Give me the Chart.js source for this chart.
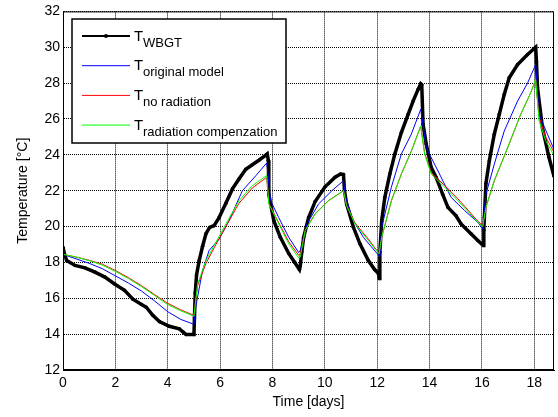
<!DOCTYPE html>
<html>
<head>
<meta charset="utf-8">
<script src="https://cdn.jsdelivr.net/npm/chart.js@4"></script>
<style>
  html, body { margin: 0; padding: 0; background: #fff; }
  #wrap { width: 558px; height: 417px; }
</style>
</head>
<body>
<div id="wrap"><canvas id="chart" width="558" height="417"></canvas></div>
<script>
// ================= DATA =================
const wbgtX = [0, 0.05, 0.14, 0.46, 0.84, 1.22, 1.6, 1.97, 2.35, 2.67, 3.0, 3.18, 3.43, 3.68, 4.06, 4.44, 4.6, 4.7, 5.0,
  5.02, 5.05, 5.1, 5.2, 5.33, 5.46, 5.6, 5.77, 5.96, 6.22, 6.47, 6.72, 6.98, 7.23, 7.48, 7.76, 7.8,
  7.84, 7.86, 8.05, 8.3, 8.62, 8.85, 9.03, 9.06, 9.12, 9.19, 9.38, 9.63, 10.0, 10.39, 10.6, 10.71,
  10.75, 10.83, 11.09, 11.34, 11.66, 11.9, 12.04, 12.08, 12.1, 12.17, 12.29, 12.48, 12.67, 12.92, 13.18, 13.37, 13.56, 13.66,
  13.7, 13.75, 13.87, 14.06, 14.25, 14.5, 14.7, 15.01, 15.2, 15.58, 15.84, 16.05,
  16.07, 16.09, 16.15, 16.28, 16.47, 16.66, 16.85, 17.04, 17.36, 17.74, 18.05,
  18.08, 18.12, 18.31, 18.56, 18.75];
const wbgtY = [18.85, 18.5, 18.1, 17.83, 17.7, 17.46, 17.18, 16.8, 16.44, 15.95, 15.65, 15.5, 15.05, 14.7, 14.44, 14.3, 14.1, 13.98, 13.98,
  14.9, 16.3, 17.3, 18.1, 18.9, 19.6, 19.95, 20.05, 20.5, 21.3, 22.1, 22.65, 23.2, 23.45, 23.7, 24.0, 24.05,
  23.7, 21.8, 20.33, 19.4, 18.5, 18.0, 17.6, 17.8, 18.6, 19.4, 20.5, 21.4, 22.2, 22.75, 22.93, 22.9,
  22.0, 21.26, 19.96, 19.04, 18.1, 17.6, 17.4, 17.1, 18.57, 20.33, 21.63, 22.93, 24.04, 25.24, 26.26, 27.0, 27.65, 27.96,
  27.9, 25.7, 24.6, 23.3, 22.74, 21.8, 21.07, 20.6, 20.15, 19.6, 19.22, 18.94,
  19.8, 20.5, 22.4, 23.67, 25.15, 26.26, 27.37, 28.3, 29.04, 29.6, 30.0,
  29.2, 27.74, 25.5, 23.85, 22.8];

const origX = [0, 0.5, 1.0, 1.5, 2.0, 2.5, 3.0, 3.5, 4.0, 4.5, 5.0, 5.02, 5.08, 5.33, 5.58, 5.96, 6.34, 6.85, 7.36, 7.78,
  7.8, 7.93, 8.24, 8.62, 9.0, 9.06, 9.32, 9.76, 10.27, 10.71, 10.8, 11.09, 11.47, 12.05, 12.1,
  12.17, 12.54, 12.92, 13.3, 13.66, 13.87, 14.32, 14.82, 15.33, 15.84, 16.03,
  16.15, 16.47, 16.85, 17.36, 17.74, 18.05, 18.18, 18.5, 18.75];
const origY = [18.45, 18.2, 17.95, 17.65, 17.25, 16.85, 16.4, 15.85, 15.25, 14.82, 14.55, 14.9, 15.6, 17.56, 18.67, 19.3, 20.33, 22.0, 22.83, 23.55,
  23.3, 21.44, 20.5, 19.4, 18.55, 18.67, 20.15, 21.26, 22.0, 22.56, 21.6, 20.33, 19.4, 18.4, 18.3,
  19.96, 22.2, 24.04, 25.15, 26.54, 24.4, 23.1, 21.63, 20.9, 20.24, 19.87,
  21.8, 23.48, 25.33, 27.0, 28.0, 29.04, 26.26, 25.15, 24.3];

const noRadX = [0, 0.5, 1.0, 1.5, 2.0, 2.5, 3.0, 3.5, 4.0, 4.5, 5.0, 5.14, 5.46, 5.84, 6.22, 6.72, 7.23, 7.78,
  7.86, 8.12, 8.62, 9.0, 9.06, 9.25, 9.63, 10.14, 10.71, 10.83, 11.15, 11.66, 12.07,
  12.17, 12.54, 12.92, 13.3, 13.66, 13.81, 14.06, 14.57, 15.08, 15.84, 16.03,
  16.15, 16.47, 16.98, 17.48, 17.86, 18.05, 18.18, 18.43, 18.75];
const noRadY = [18.45, 18.3, 18.12, 17.9, 17.55, 17.15, 16.7, 16.2, 15.72, 15.35, 15.05, 16.7, 17.95, 19.0, 20.0, 21.3, 22.15, 22.75,
  21.3, 20.55, 19.15, 18.4, 18.45, 19.8, 20.72, 21.45, 22.0, 21.2, 20.2, 19.3, 18.5,
  19.4, 21.44, 22.93, 24.2, 25.6, 24.1, 23.0, 22.3, 21.55, 20.3, 20.05,
  21.07, 22.56, 24.4, 26.26, 27.46, 28.2, 26.1, 25.0, 24.15];

const radCompX = [0, 0.02, 0.5, 1.0, 1.5, 2.0, 2.5, 3.0, 3.5, 4.0, 4.5, 5.0, 5.14, 5.46, 5.84, 6.22, 6.72, 7.23, 7.78,
  7.86, 8.12, 8.62, 9.0, 9.06, 9.25, 9.63, 10.14, 10.71, 10.83, 11.15, 11.66, 12.07,
  12.17, 12.54, 12.92, 13.3, 13.66, 13.81, 14.06, 14.57, 15.08, 15.84, 16.03,
  16.15, 16.47, 16.98, 17.48, 17.86, 18.05, 18.18, 18.43, 18.75];
const radCompY = [18.0, 18.45, 18.3, 18.1, 17.85, 17.5, 17.1, 16.65, 16.15, 15.65, 15.3, 15.0, 16.8, 18.1, 19.13, 20.15, 21.44, 22.28, 22.85,
  21.26, 20.5, 19.04, 18.25, 18.3, 19.78, 20.7, 21.44, 22.0, 21.17, 20.15, 19.22, 18.48,
  19.4, 21.44, 22.93, 24.2, 25.6, 24.04, 22.93, 22.2, 21.44, 20.24, 20.0,
  21.07, 22.56, 24.4, 26.26, 27.46, 28.2, 25.9, 24.8, 23.96];

const xTicks = [0, 2, 4, 6, 8, 10, 12, 14, 16, 18];
const yTicks = [12, 14, 16, 18, 20, 22, 24, 26, 28, 30, 32];

const legendItems = [
  { sub: "WBGT", color: "#000000", marker: true },
  { sub: "original model", color: "#0000ff" },
  { sub: "no radiation", color: "#ff0000" },
  { sub: "radiation compenzation", color: "#00ff00" }
];

const toPoints = (xs, ys) => xs.map((x, i) => ({ x: x, y: ys[i] }));
const FONT = "'Liberation Sans', Arial, sans-serif";

// ================= LEGEND + BOX =================
const frame = {
  id: "frame",
  afterDraw(chart) {
    const ctx = chart.ctx;
    const a = chart.chartArea;
    ctx.save();
    ctx.strokeStyle = "#000";
    ctx.lineWidth = 1;
    ctx.strokeRect(a.left + 0.5, a.top + 0.5, a.right - a.left - 1, a.bottom - a.top - 1);

    // legend box
    const bx = 72, by = 19, bw = 214, bh = 124;
    ctx.fillStyle = "#fff";
    ctx.fillRect(bx, by, bw, bh);
    ctx.lineWidth = 1.5;
    ctx.strokeRect(bx, by, bw, bh);

    legendItems.forEach((it, i) => {
      const ly = 36 + i * 29.7;
      ctx.strokeStyle = it.color;
      ctx.lineWidth = it.marker ? 2 : 1;
      ctx.beginPath();
      ctx.moveTo(82, ly);
      ctx.lineTo(130, ly);
      ctx.stroke();
      if (it.marker) {
        ctx.fillStyle = "#000";
        ctx.beginPath();
        ctx.arc(106, ly, 2, 0, Math.PI * 2);
        ctx.fill();
      }
      ctx.fillStyle = "#000";
      ctx.textBaseline = "alphabetic";
      ctx.font = "15px " + FONT;
      ctx.fillText("T", 134, ly + 4.5);
      ctx.font = "13px " + FONT;
      ctx.fillText(it.sub, 143, ly + 10.7);
    });
    ctx.restore();
  }
};

// ================= CHART =================
const tickFont = { family: FONT, size: 14 };

new Chart(document.getElementById("chart"), {
  type: "line",
  data: {
    datasets: [
      {
        label: "WBGT",
        data: toPoints(wbgtX, wbgtY),
        borderColor: "#000",
        backgroundColor: "#000",
        borderWidth: 3.5,
        pointRadius: 1.8,
        pointBorderWidth: 0,
        order: 4
      },
      {
        label: "original model",
        data: toPoints(origX, origY),
        borderColor: "#0000ff",
        borderWidth: 1,
        pointRadius: 0,
        order: 3
      },
      {
        label: "no radiation",
        data: toPoints(noRadX, noRadY),
        borderColor: "#ff0000",
        borderWidth: 1,
        pointRadius: 0,
        order: 2
      },
      {
        label: "radiation compenzation",
        data: toPoints(radCompX, radCompY),
        borderColor: "#00ff00",
        borderWidth: 1,
        pointRadius: 0,
        order: 1
      }
    ]
  },
  options: {
    responsive: false,
    animation: false,
    events: [],
    layout: { padding: { left: 0, right: 1, top: 10, bottom: 0 } },
    plugins: { legend: { display: false }, tooltip: { enabled: false } },
    elements: { line: { tension: 0 } },
    scales: {
      x: {
        type: "linear",
        min: 0,
        max: 18.75,
        afterBuildTicks: s => { s.ticks = xTicks.map(v => ({ value: v })); },
        afterFit: s => { s.height = 47; },
        ticks: { font: tickFont, color: "#000", padding: 5, maxRotation: 0 },
        grid: { color: "#000", drawTicks: false, lineWidth: 1 },
        border: { display: true, color: "#000", dash: [1, 1] },
        title: {
          display: true,
          text: "Time [days]",
          font: { family: FONT, size: 14 },
          color: "#000",
          padding: { top: 2, bottom: 6 }
        }
      },
      y: {
        type: "linear",
        min: 12,
        max: 32,
        afterBuildTicks: s => { s.ticks = yTicks.map(v => ({ value: v })); },
        afterFit: s => { s.width = 63; },
        ticks: { font: tickFont, color: "#000", padding: 3 },
        grid: { color: "#000", drawTicks: false, lineWidth: 1 },
        border: { display: true, color: "#000", dash: [1, 1] },
        title: {
          display: true,
          text: "Temperature [°C]",
          font: { family: FONT, size: 14 },
          color: "#000",
          padding: { top: 15, bottom: 0 }
        }
      }
    }
  },
  plugins: [frame]
});
</script>
</body>
</html>
